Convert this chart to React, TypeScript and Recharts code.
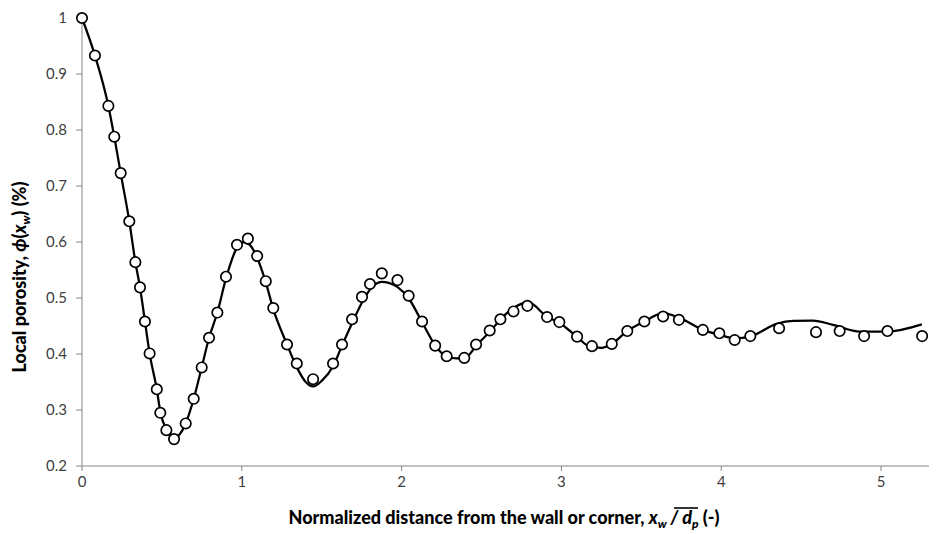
import React from "react";
import { ComposedChart, Line, Scatter, XAxis, YAxis, ZAxis, Label } from "recharts";

// measured porosity samples
const pointX = [
  0, 0.081, 0.165, 0.202, 0.242, 0.296, 0.334, 0.363, 0.394, 0.423, 0.468, 0.49, 0.528, 0.576, 0.649, 0.699,
  0.749, 0.795, 0.847, 0.901, 0.97, 1.038, 1.096, 1.15, 1.197, 1.283, 1.344, 1.446, 1.571, 1.627, 1.69, 1.752,
  1.802, 1.876, 1.974, 2.044, 2.128, 2.21, 2.282, 2.392, 2.466, 2.551, 2.618, 2.7, 2.787, 2.91, 2.987, 3.098,
  3.191, 3.315, 3.412, 3.519, 3.636, 3.735, 3.885, 3.988, 4.084, 4.182, 4.362, 4.593, 4.741, 4.894, 5.04, 5.257,
];
const pointY = [
  1.0, 0.933, 0.843, 0.788, 0.723, 0.637, 0.564, 0.519, 0.458, 0.401, 0.337, 0.295, 0.264, 0.248, 0.276, 0.32,
  0.376, 0.429, 0.474, 0.538, 0.595, 0.606, 0.575, 0.53, 0.482, 0.417, 0.383, 0.355, 0.383, 0.417, 0.462, 0.502,
  0.525, 0.544, 0.532, 0.504, 0.458, 0.415, 0.396, 0.393, 0.417, 0.442, 0.462, 0.476, 0.486, 0.466, 0.457, 0.431,
  0.414, 0.418, 0.441, 0.458, 0.467, 0.461, 0.443, 0.437, 0.425, 0.432, 0.446, 0.439, 0.441, 0.432, 0.441, 0.432,
];

// fitted correlation curve
const curveX = [
  0, 0.081, 0.165, 0.202, 0.242, 0.296, 0.334, 0.363, 0.394, 0.423, 0.468, 0.49, 0.528, 0.576, 0.649, 0.699,
  0.749, 0.795, 0.847, 0.901, 0.97, 1.01, 1.05, 1.096, 1.15, 1.197, 1.283, 1.343, 1.4, 1.447, 1.5, 1.571, 1.627,
  1.69, 1.752, 1.802, 1.875, 1.92, 1.973, 2.044, 2.126, 2.209, 2.282, 2.345, 2.397, 2.47, 2.553, 2.626, 2.699,
  2.752, 2.793, 2.908, 2.991, 3.096, 3.179, 3.25, 3.315, 3.412, 3.519, 3.636, 3.742, 3.886, 3.992, 4.086, 4.18,
  4.347, 4.45, 4.574, 4.7, 4.868, 5.036, 5.255,
];
const curveY = [
  1.0, 0.933, 0.843, 0.788, 0.723, 0.637, 0.564, 0.519, 0.458, 0.401, 0.337, 0.297, 0.265, 0.25, 0.276, 0.32,
  0.376, 0.429, 0.474, 0.535, 0.59, 0.6, 0.595, 0.572, 0.528, 0.48, 0.417, 0.377, 0.35, 0.342, 0.352, 0.378, 0.415,
  0.455, 0.492, 0.515, 0.529, 0.527, 0.52, 0.4995, 0.458, 0.416, 0.395, 0.392, 0.393, 0.416, 0.44, 0.464, 0.482,
  0.49, 0.492, 0.467, 0.455, 0.431, 0.413, 0.411, 0.418, 0.441, 0.458, 0.473, 0.464, 0.443, 0.434, 0.428, 0.431,
  0.454, 0.459, 0.4595, 0.452, 0.44, 0.44, 0.453,
];

const xTicks = [0, 1, 2, 3, 4, 5];
const yTicks = [0.2, 0.3, 0.4, 0.5, 0.6, 0.7, 0.8, 0.9, 1];

const points = pointX.map((x, i) => ({ x, y: pointY[i] }));
const curve = curveX.map((x, i) => ({ x, y: curveY[i] }));

const FONT = "Lato, 'Open Sans', sans-serif";
const AXIS = "#868686";

function XTitle() {
  return (
    <g>
      <text x={504} y={524} textAnchor="middle" fontFamily={FONT} fontWeight="900" fontSize={18} fill="#000">
        Normalized distance from the wall or corner,{" "}
        <tspan fontStyle="italic">x</tspan>
        <tspan fontStyle="italic" fontSize={12} dy={4}>w</tspan>
        <tspan fontStyle="italic" dy={-4}> / </tspan>
        <tspan fontStyle="italic">d</tspan>
        <tspan fontStyle="italic" fontSize={12} dy={4}>p</tspan>
        <tspan dy={-4}> (-)</tspan>
      </text>
      {/* bar over the mean particle diameter */}
      <line x1={674} x2={698} y1={508} y2={508} stroke="#000" strokeWidth={1.6} />
    </g>
  );
}

function YTitle() {
  return (
    <text
      transform="translate(26, 277) rotate(-90)"
      textAnchor="middle"
      fontFamily={FONT}
      fontWeight="900"
      fontSize={18}
      fill="#000"
    >
      Local porosity, <tspan fontStyle="italic">ϕ</tspan>(<tspan fontStyle="italic">x</tspan>
      <tspan fontStyle="italic" fontSize={12} dy={4}>w</tspan>
      <tspan dy={-4}>) (%)</tspan>
    </text>
  );
}

export default function App() {
  return (
    <div style={{ width: 944, height: 534, background: "#fff" }}>
      <style>{"body{margin:0}"}</style>
      <ComposedChart width={944} height={534} margin={{ top: 18, right: 15, bottom: 38, left: 42 }}>
        <XAxis
          type="number"
          dataKey="x"
          domain={[0, 5.3]}
          ticks={xTicks}
          height={30}
          stroke={AXIS}
          tickSize={5}
          tickMargin={5}
          tick={{ fill: "#404040", fontSize: 15, fontFamily: FONT }}
        >
          <Label content={() => <XTitle />} />
        </XAxis>
        <YAxis
          type="number"
          dataKey="y"
          domain={[0.2, 1]}
          ticks={yTicks}
          width={40}
          stroke={AXIS}
          tickSize={6}
          tickMargin={9}
          tick={{ fill: "#404040", fontSize: 15, fontFamily: FONT }}
        >
          <Label content={() => <YTitle />} />
        </YAxis>
        <ZAxis range={[85, 85]} />
        <Line
          data={curve}
          dataKey="y"
          type="monotone"
          stroke="#000"
          strokeWidth={2.25}
          dot={false}
          isAnimationActive={false}
        />
        <Scatter
          data={points}
          dataKey="y"
          shape="circle"
          fill="#fff"
          stroke="#000"
          strokeWidth={1.7}
          isAnimationActive={false}
        />
      </ComposedChart>
    </div>
  );
}
